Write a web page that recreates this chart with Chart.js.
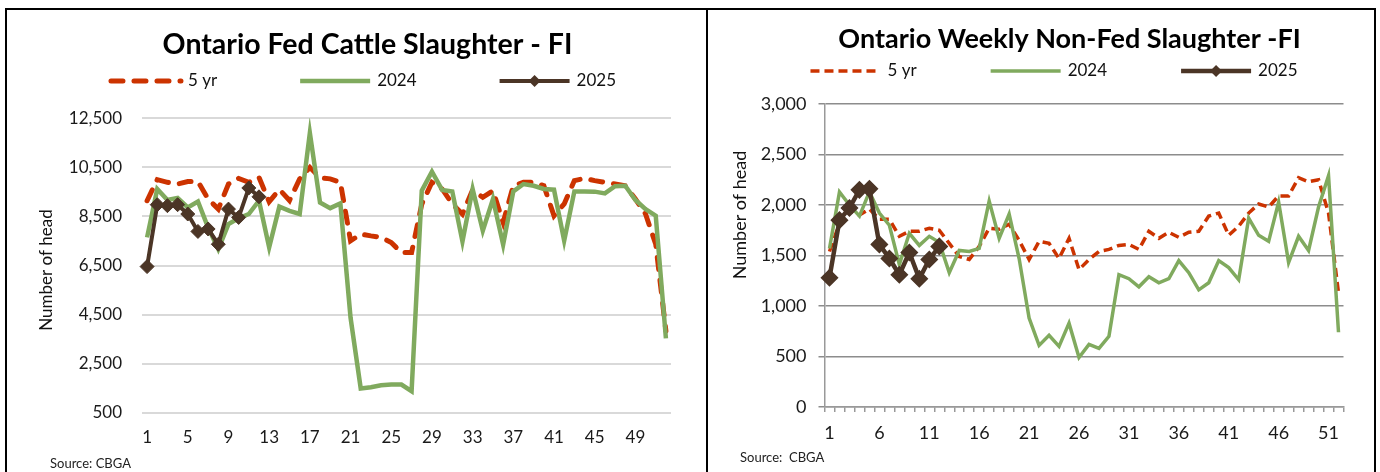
<!DOCTYPE html>
<html>
<head>
<meta charset="utf-8">
<script src="https://cdn.jsdelivr.net/npm/chart.js"></script>
<style>
  body { margin: 0; width: 1380px; height: 472px; overflow: hidden; background: #fff; font-family: Lato, sans-serif; }
  .frame { position: absolute; left: 5px; top: 8px; width: 1367px; height: 480px; border: 2px solid #000; }
  .divider { position: absolute; left: 706px; top: 8px; width: 2px; height: 480px; background: #000; }
  canvas { position: absolute; }
  .source { position: absolute; font-size: 13px; color: #222; white-space: pre; }
</style>
</head>
<body>
<div class="frame"></div>
<div class="divider"></div>
<canvas id="fedChart" width="699" height="462" style="left:7px; top:10px;"></canvas>
<canvas id="nonFedChart" width="665" height="462" style="left:709px; top:10px;"></canvas>
<div class="source" style="left:50px; top:455px;">Source: CBGA</div>
<div class="source" style="left:740px; top:449px;">Source:  CBGA</div>

<script>
// week numbers on the x axis
const weeks = ["1", "2", "3", "4", "5", "6", "7", "8", "9", "10", "11", "12", "13",
  "14", "15", "16", "17", "18", "19", "20", "21", "22", "23", "24", "25", "26",
  "27", "28", "29", "30", "31", "32", "33", "34", "35", "36", "37", "38", "39",
  "40", "41", "42", "43", "44", "45", "46", "47", "48", "49", "50", "51", "52"];

const seriesNames = ["5 yr", "2024", "2025"];

// Fed cattle (left chart)
const fedFiveYr = [9140, 10000, 9890, 9820, 9920, 9920, 9210, 8800, 9820, 10050, 9890, 10090, 9100,
  9600, 9150, 10030, 10500, 10070, 10030, 9890, 7510, 7780, 7710, 7650, 7440, 7030,
  7030, 9000, 9890, 9620, 9010, 8600, 9580, 9280, 9550, 8260, 9750, 9890, 9890,
  9750, 8530, 9010, 9960, 10050, 9960, 9890, 9820, 9750, 9210, 8600, 7370, 3840];
const fed2024 = [7650, 9620, 9170, 9250, 8870, 9110, 8050, 7170, 8190, 8430, 8600, 9140, 7240,
  8900, 8730, 8600, 11900, 9070, 8840, 9030, 4380, 1500, 1550, 1630, 1660, 1660,
  1390, 9550, 10320, 9580, 9520, 7480, 9620, 7920, 9210, 7350, 9520, 9820, 9750,
  9620, 9590, 7510, 9520, 9520, 9510, 9440, 9730, 9750, 9170, 8800, 8530, 3540];
const fed2025 = [6460, 8980, 8940, 8980, 8600, 7890, 7990, 7370, 8800, 8460, 9660, 9300];
const fedTicks = [500, 2500, 4500, 6500, 8500, 10500, 12500];

// Non-fed (right chart)
const nonFedFiveYr = [1540, 1820, 1950, 1900, 1960, 1860, 1860, 1690, 1740, 1740, 1770, 1750, 1620,
  1490, 1460, 1590, 1770, 1760, 1810, 1650, 1460, 1640, 1620, 1470, 1670, 1360,
  1460, 1540, 1560, 1600, 1610, 1560, 1740, 1670, 1730, 1680, 1730, 1740, 1890,
  1920, 1700, 1790, 1920, 2010, 1980, 2090, 2090, 2270, 2230, 2250, 1920, 1130];
const nonFed2024 = [1570, 2130, 2000, 1890, 2130, 1920, 1800, 1410, 1720, 1600, 1690, 1630, 1330,
  1550, 1540, 1570, 2040, 1670, 1910, 1470, 880, 610, 710, 600, 830, 490,
  620, 580, 700, 1310, 1270, 1190, 1290, 1230, 1270, 1450, 1330, 1160, 1230,
  1450, 1380, 1260, 1870, 1700, 1640, 2030, 1430, 1690, 1550, 1980, 2290, 740];
const nonFed2025 = [1280, 1850, 1970, 2150, 2160, 1610, 1470, 1310, 1530, 1270, 1460, 1590];
const nonFedTicks = [0, 500, 1000, 1500, 2000, 2500, 3000];

const RED = "#cc3300";
const GREEN = "#80aa5e";
const BROWN = "#4b3526";
const FONT = "Lato, sans-serif";

Chart.defaults.font.family = FONT;
Chart.defaults.color = "#1a1a1a";

function fmt(v) {
  return Number(v).toLocaleString("en-US");
}

// title, legend and y title drawn by hand so they sit where Excel put them
// (built-in legend can't space items like this)
const excelBits = {
  id: "excelBits",
  afterDraw(chart, args, opts) {
    const ctx = chart.ctx;
    ctx.save();

    // title
    ctx.font = "bold " + opts.titleSize + "px " + FONT;
    ctx.fillStyle = "#000";
    ctx.textAlign = "center";
    ctx.textBaseline = "middle";
    ctx.fillText(opts.title, opts.titleX, opts.titleY);

    // legend
    ctx.font = opts.size + "px " + FONT;
    const sets = chart.data.datasets;
    let widths = sets.map(ds => opts.sample + opts.gap + ctx.measureText(ds.label).width);
    let total = widths.reduce((a, b) => a + b, 0) + opts.spacing * (sets.length - 1);
    let x = opts.centerX - total / 2;
    const y = opts.y;
    sets.forEach((ds, i) => {
      ctx.save();
      ctx.strokeStyle = ds.borderColor;
      ctx.lineWidth = ds.borderWidth;
      ctx.lineCap = ds.borderCapStyle || "butt";
      ctx.setLineDash(ds.borderDash || []);
      ctx.beginPath();
      ctx.moveTo(x, y);
      ctx.lineTo(x + opts.sample, y);
      ctx.stroke();
      ctx.restore();
      if (ds.pointRadius) {
        let cx = x + opts.sample / 2, r = opts.markerRadius;
        ctx.fillStyle = ds.pointBackgroundColor;
        ctx.beginPath();
        ctx.moveTo(cx, y - r);
        ctx.lineTo(cx + r, y);
        ctx.lineTo(cx, y + r);
        ctx.lineTo(cx - r, y);
        ctx.closePath();
        ctx.fill();
      }
      ctx.fillStyle = "#111";
      ctx.textAlign = "left";
      ctx.fillText(ds.label, x + opts.sample + opts.gap, y);
      x += widths[i] + opts.spacing;
    });

    // y axis title
    ctx.translate(opts.yTitleX, opts.yTitleY);
    ctx.rotate(-Math.PI / 2);
    ctx.font = opts.yTitleSize + "px " + FONT;
    ctx.textAlign = "center";
    ctx.fillStyle = "#111";
    ctx.fillText("Number of head", 0, 0);
    ctx.restore();
  }
};

/* LEFT CHART */

new Chart("fedChart", {
  type: "line",
  data: {
    labels: weeks,
    datasets: [
      {
        label: seriesNames[0], data: fedFiveYr, order: 2,
        borderColor: RED, borderWidth: 5, borderDash: [12, 11], borderCapStyle: "round",
        pointRadius: 0, tension: 0
      },
      {
        label: seriesNames[1], data: fed2024, order: 1,
        borderColor: GREEN, borderWidth: 4.5, pointRadius: 0, tension: 0
      },
      {
        label: seriesNames[2], data: fed2025, order: 0,
        borderColor: BROWN, borderWidth: 4, tension: 0,
        pointStyle: "rectRot", pointRadius: 7, pointBackgroundColor: BROWN,
        pointBorderColor: BROWN, pointBorderWidth: 1
      }
    ]
  },
  options: {
    responsive: false,
    animation: false,
    layout: { padding: { left: 55, right: 35, top: 108.2, bottom: 19 } },
    plugins: {
      legend: { display: false },
      tooltip: { enabled: false },
      excelBits: {
        title: "Ontario Fed Cattle Slaughter - FI", titleSize: 28.5, titleX: 360.5, titleY: 35,
        centerX: 356.5, y: 71, size: 17, sample: 70, gap: 7, spacing: 83, markerRadius: 6,
        yTitleX: 40, yTitleY: 260, yTitleSize: 17
      }
    },
    scales: {
      x: {
        offset: true,
        grid: { display: false },
        border: { display: false },
        ticks: {
          autoSkip: false, maxRotation: 0, padding: 6, font: { size: 17 },
          callback: function (v, i) { return i % 4 === 0 ? weeks[i] : ""; }
        },
        afterFit: function (scale) { scale.height = 40; scale.paddingLeft = 0; scale.paddingRight = 0; }
      },
      y: {
        min: fedTicks[0],
        max: fedTicks[fedTicks.length - 1],
        afterBuildTicks: function (scale) { scale.ticks = fedTicks.map(v => ({ value: v })); },
        grid: { color: "#d9d9d9", lineWidth: 2, drawTicks: false },
        border: { display: false },
        ticks: { padding: 20, font: { size: 17 }, callback: fmt },
        afterFit: function (scale) { scale.width = 80; scale.paddingTop = 0; scale.paddingBottom = 0; }
      }
    }
  },
  plugins: [excelBits]
});

/* RIGHT CHART */

new Chart("nonFedChart", {
  type: "line",
  data: {
    labels: weeks,
    datasets: [
      {
        label: seriesNames[0], data: nonFedFiveYr, order: 2,
        borderColor: RED, borderWidth: 3.5, borderDash: [9, 5],
        pointRadius: 0, tension: 0
      },
      {
        label: seriesNames[1], data: nonFed2024, order: 1,
        borderColor: GREEN, borderWidth: 3.5, pointRadius: 0, tension: 0
      },
      {
        label: seriesNames[2], data: nonFed2025, order: 0,
        borderColor: BROWN, borderWidth: 4.5, tension: 0,
        pointStyle: "rectRot", pointRadius: 8, pointBackgroundColor: BROWN,
        pointBorderColor: BROWN, pointBorderWidth: 1.5
      }
    ]
  },
  options: {
    responsive: false,
    animation: false,
    layout: { padding: { left: 45, right: 30.5, top: 94, bottom: 20 } },
    plugins: {
      legend: { display: false },
      tooltip: { enabled: false },
      excelBits: {
        title: "Ontario Weekly Non-Fed Slaughter -FI", titleSize: 27, titleX: 360.5, titleY: 29,
        centerX: 345, y: 61, size: 17, sample: 70, gap: 7, spacing: 74, markerRadius: 6,
        yTitleX: 31, yTitleY: 205, yTitleSize: 18
      }
    },
    scales: {
      x: {
        offset: true,
        grid: {
          display: true, offset: true, drawOnChartArea: false,
          drawTicks: true, tickLength: 5, color: "#999", lineWidth: 1.5
        },
        border: { display: true, color: "#999", width: 1.5 },
        ticks: {
          autoSkip: false, maxRotation: 0, padding: 10, font: { size: 18 },
          callback: function (v, i) { return i % 5 === 0 ? weeks[i] : ""; }
        },
        afterFit: function (scale) { scale.height = 45; scale.paddingLeft = 0; scale.paddingRight = 0; }
      },
      y: {
        min: nonFedTicks[0],
        max: nonFedTicks[nonFedTicks.length - 1],
        afterBuildTicks: function (scale) { scale.ticks = nonFedTicks.map(v => ({ value: v })); },
        grid: { color: "#8c8c8c", lineWidth: 1.5, drawTicks: true, tickLength: 6 },
        border: { display: true, color: "#999", width: 1.5 },
        ticks: { padding: 12, font: { size: 18 }, callback: fmt },
        afterFit: function (scale) { scale.width = 70.5; scale.paddingTop = 0; scale.paddingBottom = 0; }
      }
    }
  },
  plugins: [excelBits]
});
</script>
</body>
</html>
